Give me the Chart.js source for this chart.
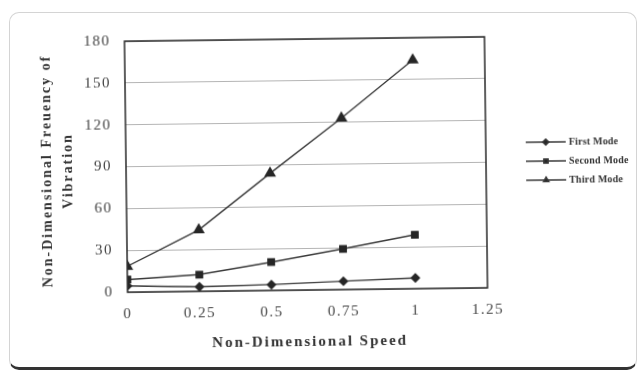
<!DOCTYPE html>
<html>
<head>
<meta charset="utf-8">
<script src="https://cdn.jsdelivr.net/npm/chart.js@4.4.1/dist/chart.umd.min.js"></script>
<style>
    html, body { margin: 0; padding: 0; background: #fff; }
    #frame {
        position: absolute; left: 9px; top: 12px; width: 626px; height: 354px;
        border: 1px solid #d4d4d4; border-bottom: 3px solid #333; border-radius: 10px;
    }
    /* the scanned figure sits slightly rotated on the page */
    #wrap {
        position: absolute; left: 0; top: 0; width: 640px; height: 376px;
        transform: rotate(-0.7deg); transform-origin: 306px 165px;
    }
</style>
</head>
<body>
<div id="frame"></div>
<div id="wrap"><canvas id="modeChart" width="640" height="376"></canvas></div>
<script>
// values
const speeds = [0, 0.25, 0.5, 0.75, 1];
const firstMode = [4.5, 3.2, 4.2, 6, 7.7];
const secondMode = [9, 12, 20.3, 29.2, 38.7];
const thirdMode = [18.5, 44, 84, 123, 164];
const xTicks = [0, 0.25, 0.5, 0.75, 1, 1.25];
const yTicks = [0, 30, 60, 90, 120, 150, 180];
const seriesNames = ['First Mode', 'Second Mode', 'Third Mode'];
const xTitle = 'Non-Dimensional Speed';
const yTitle = ['Non-Dimensional Freuency of', 'Vibration'];

const serif = "'Liberation Serif', 'DejaVu Serif', serif";

function toPoints(ys) {
    return speeds.map((x, i) => ({ x: x, y: ys[i] }));
}

// the scan has wide letter spacing everywhere
const spacingPlugin = {
    id: 'spacing',
    beforeDraw(chart) {
        chart.ctx.letterSpacing = '1.5px';
    }
};

// plot box around the chart area
const boxPlugin = {
    id: 'box',
    afterDraw(chart) {
        const a = chart.chartArea;
        const ctx = chart.ctx;
        ctx.save();
        ctx.strokeStyle = '#2a2a2a';
        ctx.lineWidth = 1.5;
        ctx.strokeRect(a.left, a.top, a.right - a.left, a.bottom - a.top);
        ctx.restore();
    }
};

// axis titles drawn by hand so the letter spacing can match
const titlePlugin = {
    id: 'titles',
    afterDraw(chart) {
        const ctx = chart.ctx;
        ctx.save();
        ctx.fillStyle = '#333';
        ctx.textAlign = 'center';
        ctx.textBaseline = 'middle';
        ctx.letterSpacing = '2px';
        ctx.font = "bold 15px " + serif;
        ctx.fillText(xTitle, 308, 342);
        ctx.font = "bold 14px " + serif;
        ctx.translate(0, 168);
        ctx.rotate(-Math.PI / 2);
        yTitle.forEach((line, i) => ctx.fillText(line, 0, 47 + i * 21));
        ctx.restore();
    }
};

// Excel-style legend: line with marker, to the right of the plot
const legendPlugin = {
    id: 'sideLegend',
    afterDraw(chart) {
        const ctx = chart.ctx;
        ctx.save();
        chart.data.datasets.forEach((ds, i) => {
            const y = 145 + i * 19;
            ctx.strokeStyle = ds.borderColor;
            ctx.lineWidth = 1.5;
            ctx.beginPath();
            ctx.moveTo(526, y);
            ctx.lineTo(566, y);
            ctx.stroke();
            ctx.fillStyle = ds.pointBackgroundColor;
            Chart.helpers.drawPoint(ctx, { pointStyle: ds.pointStyle, radius: 3, rotation: 0, borderWidth: 1 }, 546, y);
            ctx.fillStyle = '#333';
            ctx.letterSpacing = '0.2px';
            ctx.font = "bold 10px " + serif;
            ctx.textBaseline = 'middle';
            ctx.fillText(ds.label, 569, y);
        });
        ctx.restore();
    }
};

function makeSet(label, ys, style, r) {
    return {
        label: label,
        data: toPoints(ys),
        borderColor: '#3a3a3a',
        borderWidth: 1.4,
        pointStyle: style,
        pointRadius: r,
        pointBackgroundColor: '#262626',
        pointBorderColor: '#262626',
        fill: false,
        tension: 0
    };
}

const ctx = document.getElementById('modeChart');
new Chart(ctx, {
    type: 'line',
    data: {
        datasets: [
            makeSet(seriesNames[0], firstMode, 'rectRot', 4),
            makeSet(seriesNames[1], secondMode, 'rect', 4.5),
            makeSet(seriesNames[2], thirdMode, 'triangle', 5.5)
        ]
    },
    plugins: [spacingPlugin, boxPlugin, titlePlugin, legendPlugin],
    options: {
        responsive: false,
        animation: false,
        layout: { padding: { left: 0, right: 154, top: 39, bottom: 0 } },
        plugins: {
            legend: { display: false },
            tooltip: { enabled: false }
        },
        scales: {
            x: {
                type: 'linear',
                min: 0,
                max: 1.25,
                afterBuildTicks: (s) => { s.ticks = xTicks.map(v => ({ value: v })); },
                afterFit: (s) => { s.height = 86; },
                grid: { display: false },
                border: { display: false },
                ticks: {
                    color: '#444',
                    font: { family: serif, size: 15 },
                    padding: 5,
                    maxRotation: 0,
                    callback: (v) => String(v)
                }
            },
            y: {
                min: 0,
                max: 180,
                afterBuildTicks: (s) => { s.ticks = yTicks.map(v => ({ value: v })); },
                afterFit: (s) => { s.width = 126; },
                grid: { color: '#b4b4b4', lineWidth: 1, drawTicks: false },
                border: { display: false },
                ticks: {
                    color: '#444',
                    font: { family: serif, size: 15 },
                    padding: 14
                }
            }
        }
    }
});
</script>
</body>
</html>
